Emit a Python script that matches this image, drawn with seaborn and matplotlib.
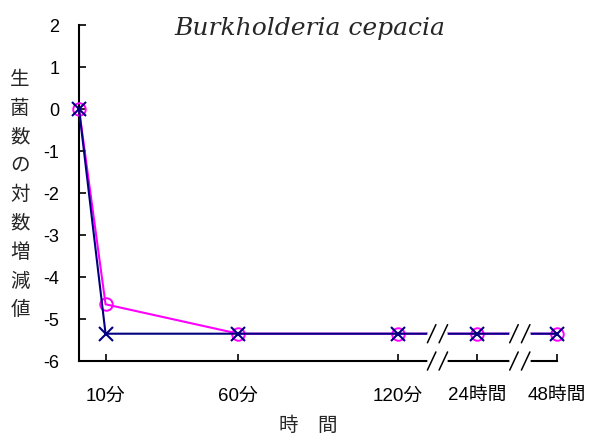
import numpy as np
import pandas as pd
import matplotlib
matplotlib.use("Agg")
import matplotlib.pyplot as plt
import seaborn as sns

# time points (plotted on a broken axis: 24h and 48h squeezed in)
tick_labels = ["10分", "60分", "120分", "24時間", "48時間"]
x_pos = [0, 10, 60, 120, 150, 180]
series_a = [0, -4.65, -5.35, -5.35, -5.35, -5.35]   # magenta, circles
series_b = [0, -5.35, -5.35, -5.35, -5.35, -5.35]   # navy, crosses
breaks = [135, 166]

sns.set_theme(style="white")
plt.rcParams['font.family'] = ['Liberation Sans', 'Noto Sans CJK JP']

df = pd.concat([
    pd.DataFrame({"x": x_pos, "y": series_a, "s": "a"}),
    pd.DataFrame({"x": x_pos, "y": series_b, "s": "b"}),
])

fig = plt.figure(figsize=(5.93, 4.41), dpi=100)
ax = fig.add_axes([79/593, 1 - 361/441, 478/593, 336/441])

sns.lineplot(data=df[df.s == "a"], x="x", y="y", ax=ax, color="#ff00ff",
             marker="o", markersize=9, markerfacecolor="none",
             markeredgecolor="#ff00ff", markeredgewidth=1.4, linewidth=1.5,
             clip_on=False, zorder=3)
sns.lineplot(data=df[df.s == "b"], x="x", y="y", ax=ax, color="#000080",
             marker="x", markersize=10, markeredgecolor="#000080",
             markeredgewidth=1.5, linewidth=1.5, clip_on=False, zorder=4)

ax.set_xlim(0, 180)
ax.set_ylim(-6, 2)
ax.set_yticks(range(-6, 3))
ax.set_yticklabels([str(v) for v in range(-6, 3)], fontsize=13)
ax.set_xticks(x_pos[1:])
ax.set_xticklabels(tick_labels, fontsize=13.5)
ax.tick_params(axis="both", direction="in", length=5, width=1.2, color="black",
               bottom=True, left=True, labelcolor="black")
ax.tick_params(axis="y", pad=14)
ax.tick_params(axis="x", pad=19)
for s in ["top", "right"]:
    ax.spines[s].set_visible(False)
for s in ["left", "bottom"]:
    ax.spines[s].set_color("black")
    ax.spines[s].set_linewidth(1.5)
ax.set_xlabel("")
ax.set_ylabel("")

# axis breaks: white gap and "//" on the data line and on the x axis
trans = ax.get_xaxis_transform()
for bx in breaks:
    for yc in [-5.35, -6]:
        yf = (yc + 6) / 8
        ax.plot([bx - 3, bx + 3], [yf, yf], color="white", linewidth=4,
                transform=trans, clip_on=False, zorder=5)
        for dx in [-2.2, 2.2]:
            ax.plot([bx + dx - 1.6, bx + dx + 1.6], [yf - 0.027, yf + 0.027],
                    color="black", linewidth=1.1, transform=trans,
                    clip_on=False, zorder=6)

fig.text(310/593, 1 - 28/441, "Burkholderia cepacia", ha="center",
         va="center", fontsize=18, style="italic", family="DejaVu Serif")

ylab = "生菌数の対数増減値"
for i, ch in enumerate(ylab):
    fig.text(20/593, 1 - (80 + i * 28.8)/441, ch, ha="center", va="center",
             fontsize=14)
fig.text(308/593, 1 - 426/441, "時\u3000間", ha="center", va="center",
         fontsize=14)

fig.savefig("out.png", dpi=100, facecolor="white")
